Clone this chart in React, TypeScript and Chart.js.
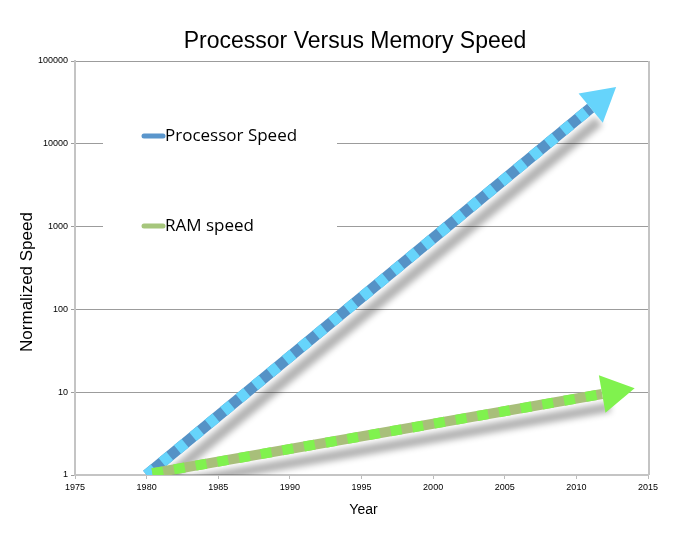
import React, { useEffect, useRef } from "react";
import { Chart, registerables } from "chart.js";

Chart.register(...registerables);

const titleText = "Processor Versus Memory Speed";
const xTitle = "Year";
const yTitle = "Normalized Speed";

const seriesLabels = ["Processor Speed", "RAM speed"];
const processorYears = [1980, 2011];
const processorSpeed = [1, 27000];
const ramYears = [1980.4, 2011.8];
const ramSpeed = [1.05, 9.5];

const xTicks = [1975, 1980, 1985, 1990, 1995, 2000, 2005, 2010, 2015];
const yTicks = [1, 10, 100, 1000, 10000, 100000];

const procBase = "#5592c6";
const procDash = "#66d4fb";
const ramBase = "#a8bf7a";
const ramDash = "#80f24e";
const legendColors = ["#5a96cc", "#a6c67c"];
const arrowColors = ["#66d4fb", "#80f24e"];

const toPts = (xs: number[], ys: number[]) => xs.map((x, i) => ({ x, y: ys[i] }));

const decorPlugin = {
  id: "decor",
  beforeDatasetsDraw(chart: any) {
    const { ctx, chartArea } = chart;
    const { left, right, top, bottom } = chartArea;
    ctx.save();
    ctx.strokeStyle = "#c4c4c4";
    ctx.lineWidth = 2;
    ctx.beginPath();
    ctx.moveTo(right + 1, top);
    ctx.lineTo(right + 1, bottom);
    ctx.stroke();
    ctx.fillStyle = "#ffffff";
    ctx.fillRect(left + 28, top + 55, 234, 130);
    const items = [top + 75, top + 165];
    items.forEach((y, i) => {
      ctx.strokeStyle = legendColors[i];
      ctx.lineWidth = 5;
      ctx.lineCap = "round";
      ctx.beginPath();
      ctx.moveTo(left + 69, y);
      ctx.lineTo(left + 88, y);
      ctx.stroke();
      ctx.fillStyle = "#000";
      ctx.font = "17px 'Open Sans'";
      ctx.textAlign = "left";
      ctx.textBaseline = "middle";
      ctx.fillText(seriesLabels[i], left + 90, y);
    });
    ctx.restore();
  },
  beforeDatasetDraw(chart: any, args: any) {
    const ds = chart.data.datasets[args.index];
    chart.ctx.save();
    if (ds.shadow) {
      chart.ctx.shadowColor = "rgba(0,0,0,0.3)";
      chart.ctx.shadowBlur = 6;
      chart.ctx.shadowOffsetX = 8;
      chart.ctx.shadowOffsetY = 13;
    }
  },
  afterDatasetDraw(chart: any) {
    chart.ctx.restore();
  },
  afterDatasetsDraw(chart: any) {
    const { ctx } = chart;
    chart.data.datasets.forEach((ds: any, i: number) => {
      if (!ds.arrowColor) return;
      const pts = chart.getDatasetMeta(i).data;
      const a = pts[pts.length - 2];
      const b = pts[pts.length - 1];
      const dx = b.x - a.x;
      const dy = b.y - a.y;
      const len = Math.hypot(dx, dy);
      const ux = dx / len;
      const uy = dy / len;
      const L = 33;
      const W = 19;
      ctx.save();
      ctx.fillStyle = ds.arrowColor;
      ctx.beginPath();
      ctx.moveTo(b.x + ux * L, b.y + uy * L);
      ctx.lineTo(b.x - uy * W, b.y + ux * W);
      ctx.lineTo(b.x + uy * W, b.y - ux * W);
      ctx.closePath();
      ctx.fill();
      ctx.restore();
    });
  },
  afterDraw(chart: any) {
    const { ctx, chartArea } = chart;
    ctx.save();
    ctx.fillStyle = "#000";
    ctx.textAlign = "center";
    ctx.textBaseline = "middle";
    ctx.font = "23px 'Liberation Sans'";
    ctx.fillText(titleText, 355, chartArea.top - 19);
    ctx.font = "14px 'Liberation Sans'";
    ctx.fillText(xTitle, (chartArea.left + chartArea.right) / 2 + 2, chartArea.bottom + 35);
    ctx.translate(27, (chartArea.top + chartArea.bottom) / 2 + 14);
    ctx.rotate(-Math.PI / 2);
    ctx.font = "17px 'Liberation Sans'";
    ctx.fillText(yTitle, 0, 0);
    ctx.restore();
  },
};

export default function App() {
  const ref = useRef<HTMLCanvasElement>(null);
  useEffect(() => {
    if (!ref.current) return;
    const procPts = toPts(processorYears, processorSpeed);
    const ramPts = toPts(ramYears, ramSpeed);
    const common = { pointRadius: 0, fill: false, tension: 0, borderCapStyle: "butt" };
    const chart = new Chart(ref.current, {
      type: "line",
      data: {
        datasets: [
          { ...common, order: 4, label: seriesLabels[0], data: procPts, borderColor: procBase, borderWidth: 11, shadow: true, arrowColor: arrowColors[0] } as any,
          { ...common, order: 3, label: "", data: procPts, borderColor: procDash, borderWidth: 11, borderDash: [10, 10] } as any,
          { ...common, order: 2, label: seriesLabels[1], data: ramPts, borderColor: ramBase, borderWidth: 10, shadow: true, arrowColor: arrowColors[1] } as any,
          { ...common, order: 1, label: "", data: ramPts, borderColor: ramDash, borderWidth: 10, borderDash: [11, 11] } as any,
        ],
      },
      options: {
        responsive: false,
        animation: false,
        layout: { padding: { left: 0, right: 37, top: 61, bottom: 0 } },
        plugins: { legend: { display: false }, title: { display: false }, tooltip: { enabled: false } },
        scales: {
          x: {
            type: "linear",
            min: 1975,
            max: 2015,
            afterFit: (s: any) => { s.height = 60; },
            afterBuildTicks: (s: any) => { s.ticks = xTicks.map((v) => ({ value: v })); },
            ticks: { callback: (v: any) => String(v), font: { family: "'Liberation Sans'", size: 9 }, color: "#000", padding: 3, maxRotation: 0 },
            grid: { drawOnChartArea: false, tickLength: 4, color: "#bbbbbb" },
            border: { color: "#c4c4c4", width: 2 },
          },
          y: {
            type: "logarithmic",
            min: 1,
            max: 100000,
            afterFit: (s: any) => { s.width = 75; },
            afterBuildTicks: (s: any) => { s.ticks = yTicks.map((v) => ({ value: v })); },
            ticks: { callback: (v: any) => String(v), font: { family: "'Liberation Sans'", size: 9 }, color: "#000", padding: 3 },
            grid: { color: "#9c9c9c", tickLength: 4, lineWidth: 1 },
            border: { color: "#c4c4c4", width: 2 },
          },
        },
      } as any,
      plugins: [decorPlugin],
    });
    return () => chart.destroy();
  }, []);
  return (
    <div style={{ position: "fixed", left: 0, top: 0, width: 685, height: 535, background: "#fff" }}>
      <canvas ref={ref} width={685} height={535} />
    </div>
  );
}
